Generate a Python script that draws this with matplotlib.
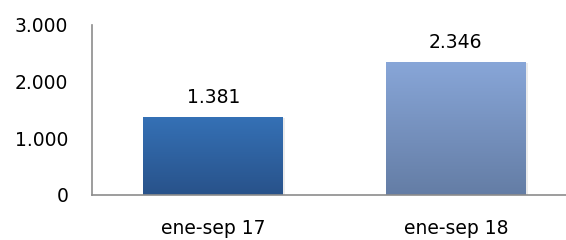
import numpy as np
import matplotlib.pyplot as plt
from matplotlib.colors import LinearSegmentedColormap
from matplotlib.patches import Rectangle

categories = ['ene-sep 17', 'ene-sep 18']
values = [1381, 2346]
labels = ['1.381', '2.346']
yticks = [0, 1000, 2000, 3000]
yticklabels = ['0', '1.000', '2.000', '3.000']
grad = [('#3571b6', '#28528a'), ('#88a6d8', '#647da5')]

plt.rcParams['font.family'] = ['DejaVu Sans']
fig = plt.figure(figsize=(5.66, 2.4), dpi=100)
ax = fig.add_axes([92 / 566, 45 / 240, 485 / 566, 170 / 240])

w = 0.577
for i, v in enumerate(values):
    x0 = i - w / 2
    # sombra
    sh = Rectangle((x0 + 0.008, -25), w, v + 5, color='#000000', alpha=0.08, lw=0, zorder=1)
    ax.add_patch(sh)
    cmap = LinearSegmentedColormap.from_list('g%d' % i, [grad[i][1], grad[i][0]])
    g = np.linspace(0, 1, 256).reshape(-1, 1)
    im = ax.imshow(g, cmap=cmap, aspect='auto', origin='lower',
                   extent=(x0, x0 + w, 0, v), zorder=2)
    r = Rectangle((x0, 0), w, v, fill=False, lw=0)
    ax.add_patch(r)
    im.set_clip_path(r)
    ax.text(i, v + 250, labels[i], ha='center', va='baseline', fontsize=13.5, color='#000000')

ax.set_xlim(-0.5, 1.5)
ax.set_ylim(0, 3000)
ax.set_xticks(range(len(categories)))
ax.set_xticklabels(categories, fontsize=13.5)
ax.set_yticks(yticks)
ax.set_yticklabels(yticklabels, fontsize=13.5)
ax.tick_params(length=0, pad=17, axis='y')
ax.tick_params(length=0, pad=17, axis='x')
for s in ['top', 'right']:
    ax.spines[s].set_visible(False)
for s in ['left', 'bottom']:
    ax.spines[s].set_color('#8c8c8c')
    ax.spines[s].set_linewidth(1.2)
ax.spines['bottom'].set_zorder(3)

fig.savefig('out.png', dpi=100)
